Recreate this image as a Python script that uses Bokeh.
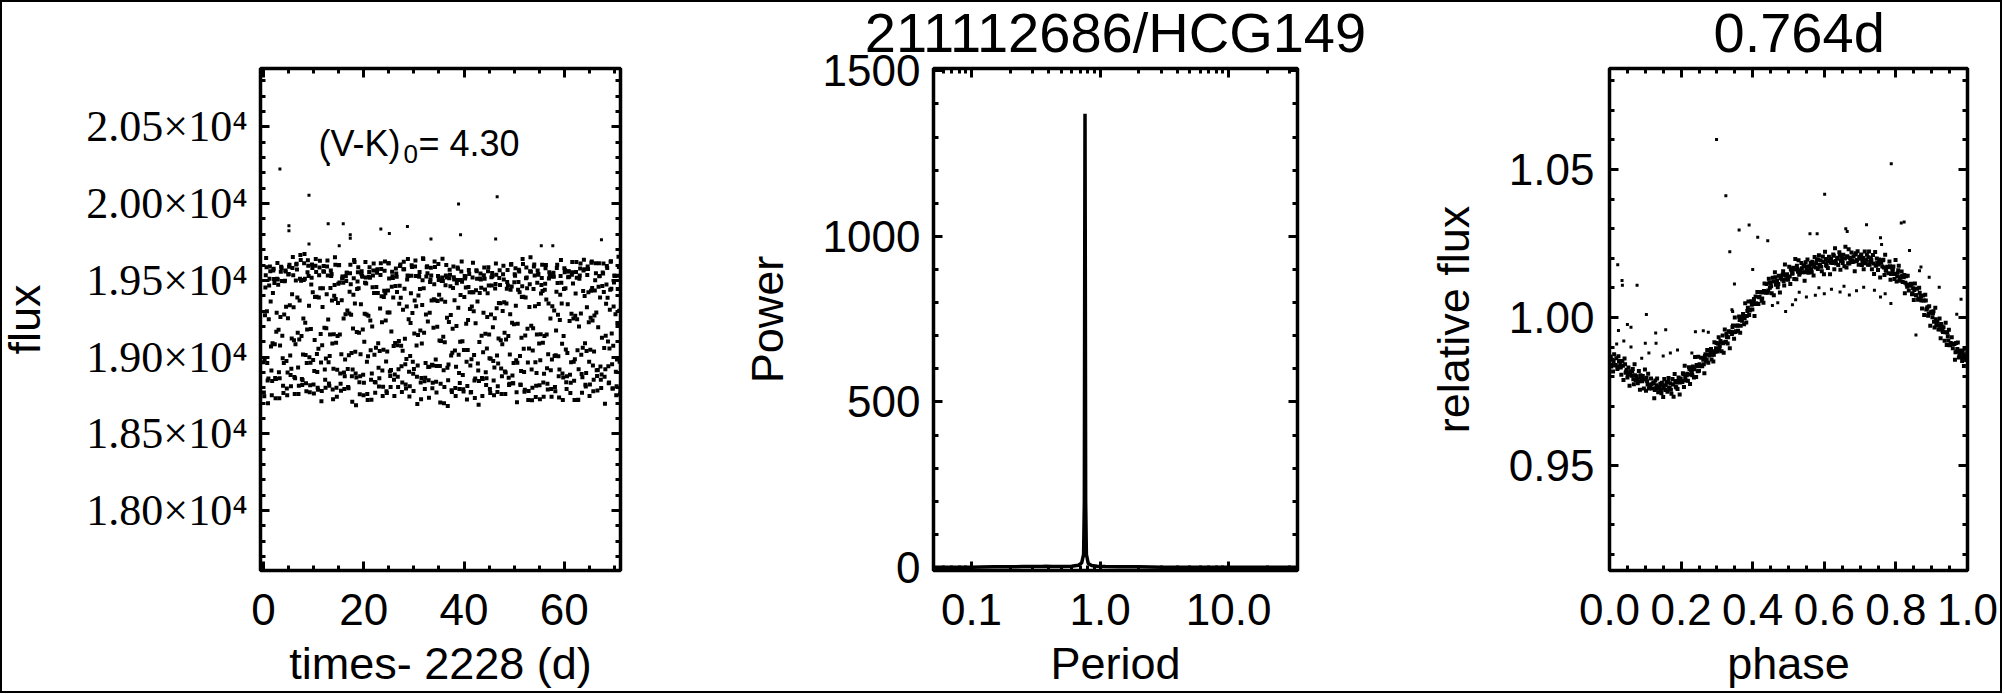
from math import pi
from bokeh.plotting import figure
from bokeh.layouts import row
from bokeh.models import (Range1d, FixedTicker, CustomJSTickFormatter, LinearAxis, LogAxis, Label,
                          Title, InlineStyleSheet)
from bokeh.embed import file_html
from bokeh.resources import INLINE

# ---------------- data ----------------
TITLE_STAR = "211112686/HCG149"
TITLE_PERIOD = "0.764d"
COLOR_TEXT = ["(V-K)", "0", "= 4.30"]

# light curve, first half of the cadences: time (d, minus 2228) and flux
LC_TIME = [
0.0,0.15,0.3,0.45,0.6,0.75,0.9,1.05,1.2,1.35,1.5,1.65,1.8,1.95,2.1,2.25,2.4,2.55,2.7,2.85,
3.0,3.15,3.3,3.45,3.6,3.75,3.9,4.05,4.2,4.35,4.5,4.65,4.8,4.95,5.1,5.25,5.4,5.55,5.7,5.85,
6.0,6.15,6.3,6.45,6.6,6.75,6.9,7.05,7.2,7.35,7.5,7.65,7.8,7.95,8.1,8.25,8.4,8.55,8.7,8.85,
9.0,9.15,9.3,9.45,9.6,9.75,9.9,10.05,10.2,10.35,10.5,10.65,10.8,10.95,11.1,11.25,11.4,11.55,11.7,11.85,
12.0,12.15,12.3,12.45,12.6,12.75,12.9,13.05,13.2,13.35,13.5,13.65,13.8,13.95,14.1,14.25,14.4,14.55,14.7,14.85,
15.0,15.15,15.3,15.45,15.6,15.75,15.9,16.05,16.2,16.35,16.5,16.65,16.8,16.95,17.1,17.25,17.4,17.55,17.7,17.85,
18.0,18.15,18.3,18.45,18.6,18.75,18.9,19.05,19.2,19.35,19.5,19.65,19.8,19.95,20.1,20.25,20.4,20.55,20.7,20.85,
21.0,21.15,21.3,21.45,21.6,21.75,21.9,22.05,22.2,22.35,22.5,22.65,22.8,22.95,23.1,23.25,23.4,23.55,23.7,23.85,
24.0,24.15,24.3,24.45,24.6,24.75,24.9,25.05,25.2,25.35,25.5,25.65,25.8,25.95,26.1,26.25,26.4,26.55,26.7,26.85,
27.0,27.15,27.3,27.45,27.6,27.75,27.9,28.05,28.2,28.35,28.5,28.65,28.8,28.95,29.1,29.25,29.4,29.55,29.7,29.85,
30.0,30.15,30.3,30.45,30.6,30.75,30.9,31.05,31.2,31.35,31.5,31.65,31.8,31.95,32.1,32.25,32.4,32.55,32.7,32.85,
33.0,33.15,33.3,33.45,33.6,33.75,33.9,34.05,34.2,34.35,34.5,34.65,34.8,34.95,35.1,35.25,35.4,35.55,35.7,35.85,
36.0,36.15,36.3,36.45,36.6,36.75,36.9,37.05,37.2,37.35,37.5,37.65,37.8,37.95,38.1,38.25,38.4,38.55,38.7,38.85,
39.0,39.15,39.3,39.45,39.6,39.75,39.9,40.05,40.2,40.35,40.5,40.65,40.8,40.95,41.1,41.25,41.4,41.55,41.7,41.85,
42.0,42.15,42.3,42.45,42.6,42.75,42.9,43.05,43.2,43.35,43.5,43.65,43.8,43.95,44.1,44.25,44.4,44.55,44.7,44.85,
45.0,45.15,45.3,45.45,45.6,45.75,45.9,46.05,46.2,46.35,46.5,46.65,46.8,46.95,47.1,47.25,47.4,47.55,47.7,47.85,
48.0,48.15,48.3,48.45,48.6,48.75,48.9,49.05,49.2,49.35,49.5,49.65,49.8,49.95,50.1,50.25,50.4,50.55,50.7,50.85,
51.0,51.15,51.3,51.45,51.6,51.75,51.9,52.05,52.2,52.35,52.5,52.65,52.8,52.95,53.1,53.25,53.4,53.55,53.7,53.85,
54.0,54.15,54.3,54.45,54.6,54.75,54.9,55.05,55.2,55.35,55.5,55.65,55.8,55.95,56.1,56.25,56.4,56.55,56.7,56.85,
57.0,57.15,57.3,57.45,57.6,57.75,57.9,58.05,58.2,58.35,58.5,58.65,58.8,58.95,59.1,59.25,59.4,59.55,59.7,59.85,
60.0,60.15,60.3,60.45,60.6,60.75,60.9,61.05,61.2,61.35,61.5,61.65,61.8,61.95,62.1,62.25,62.4,62.55,62.7,62.85,
63.0,63.15,63.3,63.45,63.6,63.75,63.9,64.05,64.2,64.35,64.5,64.65,64.8,64.95,65.1,65.25,65.4,65.55,65.7,65.85,
66.0,66.15,66.3,66.45,66.6,66.75,66.9,67.05,67.2,67.35,67.5,67.65,67.8,67.95,68.1,68.25,68.4,68.55,68.7,68.85,
69.0,69.15,69.3,69.45,69.6,69.75,69.9,70.05,70.2,70.35,70.5,70.65,70.8,70.95,71.1]

LC_FLUX = [
18967,18745,19273,19534,19586, 18961,18700,19247,19510,19559, 19069,18751,19091,19564,19509, 19083,18732,19165,19511,19506, 19178,18732,19075,19556,19581,
19139,18814,18962,19494,19564, 19328,18796,18899,19538,19589, 19338,18883,18924,19410,19652, 19324,18870,18862,19499,19608, 19389,18932,18814,19369,19665,
19497,18858,18849,19252,19611, 19511,19014,18778,19180,19631, 19528,18999,18816,19183,19517, 19580,18981,18763,19112,19595, 19555,19021,18800,19054,19533,
19628,19151,18712,19078,19448, 19594,19191,18853,18991,19410, 19630,19245,18828,19007,19451, 19529,19368,18789,18924,19400, 19650,19378,18801,18917,19353,
19598,19486,18894,18781,19371, 19525,19484,18900,18875,19279, 19495,19550,18922,18797,19284, 19547,19475,19027,18710,19186, 19514,19619,19035,18686,19164,
19493,19585,19159,18758,19019, 19543,19530,19180,18752,19100, 19484,19518,19277,18760,19005, 19524,19586,19238,18852,18894, 19455,19564,19418,18838,18835,
19457,19549,19417,18930,18862, 19317,19612,19396,18913,18807, 19391,19563,19416,18972,18767, 19290,19611,19512,18907,18805, 19167,19556,19515,19073,18747,
19092,19577,19523,19078,18806, 19105,19465,19603,19074,18773, 19042,19573,19573,19119,18822, 18988,19505,19639,19246,18743, 19007,19416,19598,19288,18891,
18923,19369,19629,19332,18872, 18945,19402,19524,19444,18835, 18864,19339,19644,19449,18842, 18865,19277,19586,19546,18935, 18735,19289,19505,19531,18951,
18833,19192,19474,19587,18985, 18770,19198,19529,19503,19108, 18705,19105,19496,19640,19133, 18699,19096,19468,19600,19256, 18682,18952,19514,19537,19275,
18784,19028,19450,19520,19370, 18799,18938,19481,19583,19321, 18896,18832,19404,19558,19491, 18883,18776,19392,19512,19453, 18970,18812,19241,19567,19422,
18945,18772,19329,19518,19422, 19013,18734,19221,19566,19510, 18959,18690,19099,19512,19506, 19139,18746,19031,19533,19510, 19152,18818,19056,19416,19585,
19147,18792,18989,19520,19548, 19194,18848,18933,19447,19610, 19319,18773,18958,19353,19565, 19351,18926,18876,19300,19595, 19358,18906,18900,19350,19490,
19466,18866,18827,19279,19602, 19460,18880,18830,19214,19540, 19579,18980,18706,19217,19490, 19558,19008,18819,19126,19461, 19607,19055,18774,19140,19514,
19518,19185,18720,19056,19475, 19650,19205,18719,19043,19444, 19604,19331,18740,18897,19485, 19537,19346,18816,18980,19414, 19516,19430,18835,18891,19439,
19579,19376,18928,18789,19349, 19552,19540,18914,18741,19331, 19529,19524,19008,18778,19174, 19581,19483,19005,18737,19242, 19528,19485,19087,18720,19138,
19579,19566,19049,18792,19027, 19521,19557,19236,18766,18966, 19536,19552,19251,18846,18986, 19414,19620,19246,18720,18921, 19511,19578,19284,18890,18869,
19431,19635,19398,18820,18896, 19325,19590,19423,18969,18821, 19257,19615,19450,18946,18853, 19271,19501,19546,18915,18783, 19194,19612,19529,18939,18799,
19126,19551,19609,19059,18696, 19139,19473,19581,19101,18829, 19056,19439,19625,19153,18796, 19074,19486,19529,19280,18751, 18985,19443,19654,19302,18757]

# light curve, the interleaved cadences
LC_TIME_B = [
0.075,0.225,0.375,0.525,0.675,0.825,0.975,1.125,1.275,1.425,1.575,1.725,1.875,2.025,2.175,2.325,2.475,2.625,2.775,2.925,
3.075,3.225,3.375,3.525,3.675,3.825,3.975,4.125,4.275,4.425,4.575,4.725,4.875,5.025,5.175,5.325,5.475,5.625,5.775,5.925,
6.075,6.225,6.375,6.525,6.675,6.825,6.975,7.125,7.275,7.425,7.575,7.725,7.875,8.025,8.175,8.325,8.475,8.625,8.775,8.925,
9.075,9.225,9.375,9.525,9.675,9.825,9.975,10.125,10.275,10.425,10.575,10.725,10.875,11.025,11.175,11.325,11.475,11.625,11.775,11.925,
12.075,12.225,12.375,12.525,12.675,12.825,12.975,13.125,13.275,13.425,13.575,13.725,13.875,14.025,14.175,14.325,14.475,14.625,14.775,14.925,
15.075,15.225,15.375,15.525,15.675,15.825,15.975,16.125,16.275,16.425,16.575,16.725,16.875,17.025,17.175,17.325,17.475,17.625,17.775,17.925,
18.075,18.225,18.375,18.525,18.675,18.825,18.975,19.125,19.275,19.425,19.575,19.725,19.875,20.025,20.175,20.325,20.475,20.625,20.775,20.925,
21.075,21.225,21.375,21.525,21.675,21.825,21.975,22.125,22.275,22.425,22.575,22.725,22.875,23.025,23.175,23.325,23.475,23.625,23.775,23.925,
24.075,24.225,24.375,24.525,24.675,24.825,24.975,25.125,25.275,25.425,25.575,25.725,25.875,26.025,26.175,26.325,26.475,26.625,26.775,26.925,
27.075,27.225,27.375,27.525,27.675,27.825,27.975,28.125,28.275,28.425,28.575,28.725,28.875,29.025,29.175,29.325,29.475,29.625,29.775,29.925,
30.075,30.225,30.375,30.525,30.675,30.825,30.975,31.125,31.275,31.425,31.575,31.725,31.875,32.025,32.175,32.325,32.475,32.625,32.775,32.925,
33.075,33.225,33.375,33.525,33.675,33.825,33.975,34.125,34.275,34.425,34.575,34.725,34.875,35.025,35.175,35.325,35.475,35.625,35.775,35.925,
36.075,36.225,36.375,36.525,36.675,36.825,36.975,37.125,37.275,37.425,37.575,37.725,37.875,38.025,38.175,38.325,38.475,38.625,38.775,38.925,
39.075,39.225,39.375,39.525,39.675,39.825,39.975,40.125,40.275,40.425,40.575,40.725,40.875,41.025,41.175,41.325,41.475,41.625,41.775,41.925,
42.075,42.225,42.375,42.525,42.675,42.825,42.975,43.125,43.275,43.425,43.575,43.725,43.875,44.025,44.175,44.325,44.475,44.625,44.775,44.925,
45.075,45.225,45.375,45.525,45.675,45.825,45.975,46.125,46.275,46.425,46.575,46.725,46.875,47.025,47.175,47.325,47.475,47.625,47.775,47.925,
48.075,48.225,48.375,48.525,48.675,48.825,48.975,49.125,49.275,49.425,49.575,49.725,49.875,50.025,50.175,50.325,50.475,50.625,50.775,50.925,
51.075,51.225,51.375,51.525,51.675,51.825,51.975,52.125,52.275,52.425,52.575,52.725,52.875,53.025,53.175,53.325,53.475,53.625,53.775,53.925,
54.075,54.225,54.375,54.525,54.675,54.825,54.975,55.125,55.275,55.425,55.575,55.725,55.875,56.025,56.175,56.325,56.475,56.625,56.775,56.925,
57.075,57.225,57.375,57.525,57.675,57.825,57.975,58.125,58.275,58.425,58.575,58.725,58.875,59.025,59.175,59.325,59.475,59.625,59.775,59.925,
60.075,60.225,60.375,60.525,60.675,60.825,60.975,61.125,61.275,61.425,61.575,61.725,61.875,62.025,62.175,62.325,62.475,62.625,62.775,62.925,
63.075,63.225,63.375,63.525,63.675,63.825,63.975,64.125,64.275,64.425,64.575,64.725,64.875,65.025,65.175,65.325,65.475,65.625,65.775,65.925,
66.075,66.225,66.375,66.525,66.675,66.825,66.975,67.125,67.275,67.425,67.575,67.725,67.875,68.025,68.175,68.325,68.475,68.625,68.775,68.925,
69.075,69.225,69.375,69.525,69.675,69.825,69.975,70.125,70.275,70.425,70.575,70.725,70.875,71.025,71.175]

LC_FLUX_B = [
18769,18986,19453,19645,19299, 18847,18861,19466,19590,19363, 18913,18844,19418,19575,19482, 18864,18858,19289,19613,19471, 18902,18863,19261,19589,19496,
18992,18767,19277,19497,19557, 18975,18752,19253,19541,19601, 19011,18810,19121,19581,19534, 19110,18760,19083,19604,19571, 19159,18760,19115,19511,19632,
19137,18819,19017,19503,19671, 19224,18829,18961,19552,19595, 19335,18771,18963,19473,19604, 19423,18822,18909,19392,19639, 19394,18903,18788,19389,19583,
19448,18965,18779,19326,19560, 19556,18920,18801,19188,19590, 19532,18966,18813,19147,19564, 19542,19088,18725,19149,19469, 19601,19094,18741,19137,19478,
19600,19147,18827,19018,19512, 19524,19251,18792,18984,19527, 19549,19303,18805,19012,19425, 19601,19276,18876,18919,19407, 19633,19349,18893,18868,19444,
19553,19448,18836,18876,19344, 19559,19523,18885,18833,19282, 19620,19479,18970,18720,19269, 19554,19517,19044,18722,19200, 19531,19610,19016,18768,19061,
19564,19573,19091,18809,19039, 19535,19574,19227,18747,19048, 19433,19623,19239,18778,19037, 19434,19612,19290,18877,18916, 19459,19527,19389,18852,18887,
19463,19545,19424,18872,18921, 19347,19594,19386,18940,18835, 19309,19621,19446,18953,18795, 19330,19531,19528,18905,18810, 19222,19530,19587,18969,18780,
19154,19591,19529,19075,18694, 19144,19528,19555,19173,18725, 19089,19501,19639,19159,18793, 18962,19525,19592,19232,18850, 18937,19490,19582,19368,18797,
18946,19377,19623,19371,18839, 18942,19366,19606,19406,18942, 18826,19376,19518,19495,18915, 18806,19360,19531,19518,18931, 18850,19229,19569,19461,19011,
18772,19185,19591,19506,19043, 18747,19203,19503,19575,19016, 18792,19100,19503,19623,19104, 18791,19047,19529,19525,19218, 18724,19047,19457,19541,19314,
18769,18986,19423,19615,19299, 18847,18861,19436,19560,19363, 18913,18844,19418,19545,19452, 18864,18858,19289,19583,19441, 18902,18863,19261,19559,19466,
18992,18767,19277,19467,19527, 18975,18752,19253,19476,19536, 19011,18810,19121,19516,19469, 19110,18760,19083,19539,19506, 19159,18760,19115,19446,19567,
19137,18819,19017,19438,19606, 19224,18829,18961,19487,19530, 19335,18771,18963,19438,19569, 19423,18822,18909,19392,19639, 19394,18903,18788,19389,19583,
19448,18965,18779,19326,19560, 19556,18920,18801,19188,19590, 19532,18966,18813,19147,19564, 19542,19088,18725,19149,19469, 19601,19094,18741,19137,19478,
19600,19147,18827,19018,19512, 19524,19251,18792,18984,19527, 19549,19303,18805,19012,19425, 19601,19276,18876,18919,19407, 19633,19349,18893,18868,19444,
19553,19448,18836,18876,19344, 19559,19523,18885,18833,19282, 19620,19479,18970,18720,19269, 19554,19517,19044,18722,19200, 19531,19610,19016,18768,19061,
19564,19573,19091,18809,19039, 19535,19574,19227,18747,19048, 19433,19623,19239,18778,19037, 19434,19612,19290,18877,18916, 19459,19527,19389,18852,18887,
19463,19545,19424,18872,18921, 19347,19594,19386,18940,18835, 19309,19621,19446,18953,18795, 19330,19531,19528,18905,18810, 19222,19530,19587,18969,18780]

# isolated high points of the light curve
LC_OUT_TIME = [3.27,12.9,9.07,38.9,46.6,12.9,15.9,5.07,5.07,23.4,25.1,28.7,17.3,17.3,33.4,39.3,9.07,15.1,67.4,46.3,55.4,57.7]
LC_OUT_FLUX = [20226,20254,20054,19997,20045,19868,19868,19855,19823,19834,19806,19851,19797,19774,19769,19797,19737,19726,19765,19769,19726,19726]

# periodogram
PERIOD = [0.0506,0.06,0.07,0.08,0.09,0.1,0.12,0.15,0.2,0.25,0.3,0.35,0.38,0.42,0.5,0.6,0.68,0.72,0.745,0.755,0.760,0.764,0.768,0.773,0.783,0.81,0.86,0.95,1.1,1.4,2.0,3.0,5.0,8.0,13.0,20.0,34.4]
POWER = [0.5,0.5,1,1,1,1,1.5,2,2,3,3,3,4,3,3,4,7,14,40,200,900,1370,900,200,40,12,6,4,3,2,2,1,1,1,1,1,1]

# phase-folded light curve (main band)
PHASE = [
0.002,0.005,0.008,0.010,0.013,0.016,0.019, 0.022,0.025,0.028,0.030,0.033,0.036,0.039,
0.042,0.045,0.048,0.050,0.053,0.056,0.059, 0.062,0.065,0.068,0.070,0.073,0.076,0.079,
0.082,0.085,0.088,0.090,0.093,0.096,0.099, 0.102,0.105,0.108,0.110,0.113,0.116,0.119,
0.122,0.125,0.128,0.130,0.133,0.136,0.139, 0.142,0.145,0.148,0.150,0.153,0.156,0.159,
0.162,0.165,0.168,0.170,0.173,0.176,0.179, 0.182,0.185,0.188,0.190,0.193,0.196,0.199,
0.202,0.205,0.208,0.210,0.213,0.216,0.219, 0.222,0.225,0.228,0.230,0.233,0.236,0.239,
0.242,0.245,0.248,0.250,0.253,0.256,0.259, 0.262,0.265,0.268,0.270,0.273,0.276,0.279,
0.282,0.285,0.288,0.290,0.293,0.296,0.299, 0.302,0.305,0.308,0.310,0.313,0.316,0.319,
0.322,0.325,0.328,0.330,0.333,0.336,0.339, 0.342,0.345,0.348,0.350,0.353,0.356,0.359,
0.362,0.365,0.368,0.370,0.373,0.376,0.379, 0.382,0.385,0.388,0.390,0.393,0.396,0.399,
0.402,0.405,0.408,0.410,0.413,0.416,0.419, 0.422,0.425,0.428,0.430,0.433,0.436,0.439,
0.442,0.445,0.448,0.450,0.453,0.456,0.459, 0.462,0.465,0.468,0.470,0.473,0.476,0.479,
0.482,0.485,0.488,0.490,0.493,0.496,0.499, 0.502,0.505,0.508,0.510,0.513,0.516,0.519,
0.522,0.525,0.528,0.530,0.533,0.536,0.539, 0.542,0.545,0.548,0.550,0.553,0.556,0.559,
0.562,0.565,0.568,0.570,0.573,0.576,0.579, 0.582,0.585,0.588,0.590,0.593,0.596,0.599,
0.602,0.605,0.608,0.610,0.613,0.616,0.619, 0.622,0.625,0.628,0.630,0.633,0.636,0.639,
0.642,0.645,0.648,0.650,0.653,0.656,0.659, 0.662,0.665,0.668,0.670,0.673,0.676,0.679,
0.682,0.685,0.688,0.690,0.693,0.696,0.699, 0.702,0.705,0.708,0.710,0.713,0.716,0.719,
0.722,0.725,0.728,0.730,0.733,0.736,0.739, 0.742,0.745,0.748,0.750,0.753,0.756,0.759,
0.762,0.765,0.768,0.770,0.773,0.776,0.779, 0.782,0.785,0.788,0.790,0.793,0.796,0.799,
0.802,0.805,0.808,0.810,0.813,0.816,0.819, 0.822,0.825,0.828,0.830,0.833,0.836,0.839,
0.842,0.845,0.848,0.850,0.853,0.856,0.859, 0.862,0.865,0.868,0.870,0.873,0.876,0.879,
0.882,0.885,0.888,0.890,0.893,0.896,0.899, 0.902,0.905,0.908,0.910,0.913,0.916,0.919,
0.922,0.925,0.928,0.930,0.933,0.936,0.939, 0.942,0.945,0.948,0.950,0.953,0.956,0.959,
0.962,0.965,0.968,0.970,0.973,0.976,0.979, 0.982,0.985,0.988,0.990,0.993,0.996,0.999]

REL_FLUX = [
0.9868,0.9834,0.9857,0.9817,0.9876,0.9838,0.9862, 0.9826,0.9869,0.9833,0.9845,0.9806,0.9853,0.9789,
0.9861,0.9813,0.9823,0.9797,0.9831,0.9769,0.9818, 0.9803,0.9826,0.9774,0.9842,0.9788,0.9801,0.9778,
0.9819,0.9756,0.9798,0.9786,0.9802,0.9760,0.9824, 0.9752,0.9784,0.9810,0.9760,0.9771,0.9794,0.9760,
0.9778,0.9727,0.9787,0.9761,0.9794,0.9747,0.9765, 0.9776,0.9744,0.9769,0.9731,0.9792,0.9755,0.9781,
0.9749,0.9795,0.9763,0.9778,0.9742,0.9792,0.9732, 0.9809,0.9766,0.9780,0.9758,0.9797,0.9740,0.9794,
0.9785,0.9811,0.9765,0.9837,0.9787,0.9805,0.9786, 0.9832,0.9775,0.9822,0.9813,0.9834,0.9797,0.9866,
0.9799,0.9836,0.9867,0.9820,0.9836,0.9864,0.9835, 0.9857,0.9811,0.9876,0.9852,0.9890,0.9847,0.9871,
0.9886,0.9858,0.9886,0.9851,0.9916,0.9884,0.9914, 0.9885,0.9933,0.9903,0.9920,0.9886,0.9939,0.9881,
0.9959,0.9918,0.9934,0.9912,0.9953,0.9896,0.9952, 0.9944,0.9973,0.9928,1.0000,0.9953,0.9972,0.9955,
1.0003,0.9948,0.9997,0.9989,1.0012,0.9977,1.0048, 0.9983,1.0022,1.0054,1.0008,1.0026,1.0055,1.0027,
1.0051,1.0005,1.0071,1.0048,1.0086,1.0045,1.0069, 1.0085,1.0056,1.0085,1.0050,1.0115,1.0083,1.0113,
1.0083,1.0131,1.0100,1.0116,1.0082,1.0134,1.0075, 1.0153,1.0110,1.0124,1.0102,1.0141,1.0084,1.0138,
1.0128,1.0156,1.0108,1.0179,1.0129,1.0146,1.0127, 1.0171,1.0113,1.0159,1.0148,1.0168,1.0130,1.0197,
1.0129,1.0164,1.0193,1.0144,1.0159,1.0184,1.0153, 1.0174,1.0124,1.0186,1.0161,1.0196,1.0151,1.0172,
1.0184,1.0153,1.0179,1.0142,1.0204,1.0169,1.0196, 1.0164,1.0210,1.0177,1.0192,1.0156,1.0206,1.0146,
1.0222,1.0177,1.0190,1.0167,1.0205,1.0146,1.0199, 1.0187,1.0213,1.0163,1.0234,1.0182,1.0198,1.0177,
1.0220,1.0161,1.0205,1.0194,1.0212,1.0173,1.0239, 1.0169,1.0203,1.0230,1.0182,1.0195,1.0219,1.0187,
1.0206,1.0156,1.0217,1.0191,1.0224,1.0178,1.0198, 1.0209,1.0177,1.0201,1.0163,1.0223,1.0187,1.0212,
1.0178,1.0223,1.0187,1.0200,1.0163,1.0211,1.0147, 1.0221,1.0175,1.0185,1.0160,1.0196,1.0135,1.0185,
1.0172,1.0195,1.0143,1.0212,1.0158,1.0171,1.0149, 1.0189,1.0127,1.0169,1.0156,1.0172,1.0130,1.0194,
1.0121,1.0151,1.0175,1.0124,1.0134,1.0155,1.0120, 1.0136,1.0082,1.0139,1.0111,1.0141,1.0091,1.0107,
1.0114,1.0078,1.0099,1.0059,1.0115,1.0075,1.0097, 1.0060,1.0100,1.0061,1.0072,1.0030,1.0074,1.0008,
1.0077,1.0027,1.0034,1.0006,1.0038,0.9972,1.0019, 1.0001,1.0021,0.9966,1.0033,0.9975,0.9985,0.9959,
0.9996,0.9930,0.9969,0.9955,0.9967,0.9921,0.9982, 0.9907,0.9936,0.9958,0.9906,0.9914,0.9933,0.9896,
0.9910,0.9857,0.9914,0.9885,0.9915,0.9865,0.9881, 0.9888,0.9853,0.9875,0.9836,0.9894,0.9856,0.9879]

PHASE_B = [
0.0035,0.0065,0.0115,0.0175, 0.0235,0.0265,0.0315,0.0375, 0.0435,0.0465,0.0515,0.0575, 0.0635,0.0665,0.0715,0.0775, 0.0835,0.0865,0.0915,0.0975,
0.1035,0.1065,0.1115,0.1175, 0.1235,0.1265,0.1315,0.1375, 0.1435,0.1465,0.1515,0.1575, 0.1635,0.1665,0.1715,0.1775, 0.1835,0.1865,0.1915,0.1975,
0.2035,0.2065,0.2115,0.2175, 0.2235,0.2265,0.2315,0.2375, 0.2435,0.2465,0.2515,0.2575, 0.2635,0.2665,0.2715,0.2775, 0.2835,0.2865,0.2915,0.2975,
0.3035,0.3065,0.3115,0.3175, 0.3235,0.3265,0.3315,0.3375, 0.3435,0.3465,0.3515,0.3575, 0.3635,0.3665,0.3715,0.3775, 0.3835,0.3865,0.3915,0.3975,
0.4035,0.4065,0.4115,0.4175, 0.4235,0.4265,0.4315,0.4375, 0.4435,0.4465,0.4515,0.4575, 0.4635,0.4665,0.4715,0.4775, 0.4835,0.4865,0.4915,0.4975,
0.5035,0.5065,0.5115,0.5175, 0.5235,0.5265,0.5315,0.5375, 0.5435,0.5465,0.5515,0.5575, 0.5635,0.5665,0.5715,0.5775, 0.5835,0.5865,0.5915,0.5975,
0.6035,0.6065,0.6115,0.6175, 0.6235,0.6265,0.6315,0.6375, 0.6435,0.6465,0.6515,0.6575, 0.6635,0.6665,0.6715,0.6775, 0.6835,0.6865,0.6915,0.6975,
0.7035,0.7065,0.7115,0.7175, 0.7235,0.7265,0.7315,0.7375, 0.7435,0.7465,0.7515,0.7575, 0.7635,0.7665,0.7715,0.7775, 0.7835,0.7865,0.7915,0.7975,
0.8035,0.8065,0.8115,0.8175, 0.8235,0.8265,0.8315,0.8375, 0.8435,0.8465,0.8515,0.8575, 0.8635,0.8665,0.8715,0.8775, 0.8835,0.8865,0.8915,0.8975,
0.9035,0.9065,0.9115,0.9175, 0.9235,0.9265,0.9315,0.9375, 0.9435,0.9465,0.9515,0.9575, 0.9635,0.9665,0.9715,0.9775, 0.9835,0.9865,0.9915,0.9975]

REL_FLUX_B = [
0.9865,0.9839,0.9853,0.9839, 0.9831,0.9853,0.9831,0.9837, 0.9842,0.9817,0.9806,0.9814, 0.9817,0.9791,0.9805,0.9791, 0.9784,0.9805,0.9784,0.9790,
0.9796,0.9773,0.9763,0.9774, 0.9780,0.9755,0.9771,0.9759, 0.9755,0.9779,0.9760,0.9770, 0.9782,0.9761,0.9756,0.9773, 0.9785,0.9763,0.9785,0.9780,
0.9782,0.9809,0.9795,0.9810, 0.9826,0.9807,0.9805,0.9825, 0.9839,0.9818,0.9842,0.9838, 0.9842,0.9870,0.9858,0.9875, 0.9893,0.9874,0.9874,0.9896,
0.9911,0.9891,0.9915,0.9913, 0.9917,0.9945,0.9933,0.9950, 0.9968,0.9950,0.9951,0.9973, 0.9991,0.9972,0.9998,0.9998, 1.0005,1.0033,1.0023,1.0043,
1.0062,1.0045,1.0045,1.0068, 1.0085,1.0064,1.0089,1.0087, 1.0091,1.0118,1.0105,1.0121, 1.0136,1.0116,1.0113,1.0132, 1.0144,1.0122,1.0143,1.0137,
1.0138,1.0164,1.0148,1.0162, 1.0175,1.0154,1.0149,1.0166, 1.0176,1.0153,1.0172,1.0164, 1.0163,1.0188,1.0172,1.0184, 1.0196,1.0176,1.0171,1.0187,
1.0197,1.0174,1.0193,1.0185, 1.0184,1.0208,1.0191,1.0202, 1.0212,1.0191,1.0184,1.0199, 1.0207,1.0183,1.0202,1.0192, 1.0189,1.0213,1.0194,1.0204,
1.0213,1.0191,1.0183,1.0196, 1.0203,1.0178,1.0194,1.0182, 1.0176,1.0199,1.0179,1.0186, 1.0193,1.0169,1.0159,1.0170, 1.0173,1.0147,1.0161,1.0147,
1.0138,1.0159,1.0136,1.0140, 1.0143,1.0117,1.0104,1.0110, 1.0110,1.0082,1.0093,1.0075, 1.0063,1.0083,1.0057,1.0057, 1.0057,1.0029,1.0013,1.0016,
1.0014,0.9985,0.9994,0.9973, 0.9960,0.9978,0.9951,0.9950, 0.9949,0.9922,0.9907,0.9911, 0.9910,0.9882,0.9893,0.9875, 0.9866,0.9887,0.9865,0.9869]

# phase-folded light curve (scattered points away from the band)
PHASE_OUT = [0.299,0.787,0.325,0.601,0.815,0.823,0.390,0.362,0.336,0.023,0.035,0.036,0.077,0.103,0.050,0.060,0.025,0.856,0.157,0.129,
             0.240,0.262,0.276,0.970,0.982,0.921,0.893,0.870,0.866,0.838,0.757,0.760,0.718,0.660,0.664,0.580,0.560,0.414,0.442,0.400,
             0.349,0.342,0.344,
             0.492,0.511,0.550,0.600,0.644,0.670,0.710,0.740,0.757,0.786,0.470,0.530,0.575,0.620,0.690,0.770,0.455,0.520,0.585,0.655,
             0.100,0.130,0.090,0.170,0.190,0.210,0.060,0.040,0.020,0.110,0.150,0.230]
REL_OUT = [1.0601,1.0519,1.0411,1.0416,1.0319,1.0322,1.0312,1.0295,1.0222,1.0178,1.0125,1.0109,1.0109,1.0010,0.9976,0.9967,0.9956,0.9941,0.9958,0.9947,
           0.9952,0.9955,0.9950,1.0011,1.0061,1.0102,1.0136,1.0170,1.0158,1.0226,1.0269,1.0246,1.0313,1.0300,1.0290,1.0283,1.0283,1.0271,1.0259,1.0162,
           1.0113,1.0026,1.0020,
           1.0020,1.0043,1.0069,1.0080,1.0086,1.0076,1.0102,1.0092,1.0069,1.0047,1.0050,1.0085,1.0075,1.0095,1.0090,1.0080,1.0040,1.0060,1.0100,1.0105,
           0.9913,0.9913,0.9862,0.9880,0.9890,0.9838,0.9900,0.9920,0.9910,0.9880,0.9870,0.9880]

# tick values
T_MAJOR = [0, 20, 40, 60]
FLUX_MAJOR = [18000, 18500, 19000, 19500, 20000, 20500]
POW_MAJOR = [0, 500, 1000, 1500]
PER_MAJOR = [0.1, 1, 10]
PH_MAJOR = [0.0, 0.2, 0.4, 0.6, 0.8, 1.0]
REL_MAJOR = [0.95, 1.00, 1.05]

# ---------------- styling helpers ----------------
SANS = "Liberation Sans"
SERIF = "Liberation Serif"
TICK_PX = "44px"
LAB_PX = "45px"
SHIFT_X, SHIFT_Y = 16, 22     # the row is pulled left/up by this much
FIG_H = 691 + SHIFT_Y
TOP, BOTTOM = 68 + SHIFT_Y, 117

def new_fig(w, xr, yr, left, right, x_type="linear"):
    p = figure(width=w, height=FIG_H, x_range=xr, y_range=yr, x_axis_type=x_type,
               output_backend="svg", toolbar_location=None, title=None,
               min_border_left=left, min_border_right=right,
               min_border_top=TOP, min_border_bottom=BOTTOM)
    p.xgrid.visible = False
    p.ygrid.visible = False
    p.outline_line_color = "black"
    p.outline_line_width = 3.5
    p.background_fill_color = "white"
    p.border_fill_color = "white"
    return p

def style_axis(ax, ticks, minor, code, font=SANS, size=TICK_PX, standoff=14):
    ax.ticker = FixedTicker(ticks=ticks, minor_ticks=minor)
    ax.formatter = CustomJSTickFormatter(code=code)
    ax.axis_line_color = None
    ax.major_tick_in = 9
    ax.major_tick_out = 0
    ax.minor_tick_in = 5
    ax.minor_tick_out = 0
    ax.major_tick_line_width = 3
    ax.minor_tick_line_width = 3
    ax.major_tick_line_color = "black"
    ax.minor_tick_line_color = "black"
    ax.major_label_text_font = font
    ax.major_label_text_font_size = size
    ax.major_label_text_color = "black"
    ax.major_label_standoff = standoff

def axis_title(ax, text, standoff):
    ax.axis_label = text
    ax.axis_label_text_font = SANS
    ax.axis_label_text_font_size = LAB_PX
    ax.axis_label_text_font_style = "normal"
    ax.axis_label_text_color = "black"
    ax.axis_label_standoff = standoff

def mirror(p, side, ticks, minor, log=False):
    ax = LogAxis() if log else LinearAxis()
    style_axis(ax, ticks, minor, "return ''", size="0px", standoff=0)
    p.add_layout(ax, side)

def top_title(p, text, align="center", offset=0):
    p.title = Title(text=text, text_font=SANS, text_font_size="56px", text_font_style="normal",
                    text_color="black", align=align, offset=offset, standoff=10)

def lab(p, x, y, text, size, align="left"):
    p.add_layout(Label(x=x, y=y, x_units="screen", y_units="screen", text=text,
                       text_font=SANS, text_font_size=size, text_color="black",
                       text_align=align, text_baseline="alphabetic"))

# ---------------- panel 1: light curve ----------------
p1 = new_fig(718, Range1d(-0.6, 71.2), Range1d(17610, 20880), 260 + SHIFT_X, 82)
t_minor = [v for v in range(5, 75, 5)]
f_minor = [v for v in range(17700, 20900, 100)]
style_axis(p1.xaxis[0], T_MAJOR, t_minor, "return tick.toFixed(0)", standoff=23)
style_axis(p1.yaxis[0], FLUX_MAJOR, f_minor,
           "return (tick/10000).toFixed(2) + '\\u00d710\\u2074'", font=SERIF, standoff=13)
axis_title(p1.xaxis[0], "times- 2228 (d)", 10)
axis_title(p1.yaxis[0], "flux", 33)
mirror(p1, "above", T_MAJOR, t_minor)
mirror(p1, "right", FLUX_MAJOR, f_minor)
p1.scatter(LC_TIME, LC_FLUX, marker="square", size=4.0, fill_color="black", line_color=None)
p1.scatter(LC_TIME_B, LC_FLUX_B, marker="square", size=4.0, fill_color="black", line_color=None)
p1.scatter(LC_OUT_TIME, LC_OUT_FLUX, marker="square", size=3.0, fill_color="black", line_color=None)
lab(p1, 58, 427, COLOR_TEXT[0], "36px")
lab(p1, 143, 417, COLOR_TEXT[1], "26px")
lab(p1, 158, 427, COLOR_TEXT[2], "36px")

# ---------------- panel 2: periodogram ----------------
p2 = new_fig(670, Range1d(0.0506, 34.4), Range1d(-9, 1507), 231, 75, x_type="log")
per_minor = [0.05, 0.06, 0.07, 0.08, 0.09, 0.2, 0.3, 0.4, 0.5, 0.6, 0.7, 0.8, 0.9,
             2, 3, 4, 5, 6, 7, 8, 9, 20, 30]
pow_minor = [v for v in range(100, 1600, 100)]
style_axis(p2.xaxis[0], PER_MAJOR, per_minor, "return tick.toFixed(1)", standoff=23)
style_axis(p2.yaxis[0], POW_MAJOR, pow_minor, "return tick.toFixed(0)", standoff=13)
axis_title(p2.xaxis[0], "Period", 10)
axis_title(p2.yaxis[0], "Power", 27)
mirror(p2, "above", PER_MAJOR, per_minor, log=True)
mirror(p2, "right", POW_MAJOR, pow_minor)
p2.line(PERIOD, POWER, line_width=3.5, line_color="black")
top_title(p2, TITLE_STAR)

# ---------------- panel 3: phased light curve ----------------
p3 = new_fig(628, Range1d(0.0, 1.0), Range1d(0.9145, 1.0841), 237, 33)
ph_minor = [round(0.05 * i, 2) for i in range(1, 20)]
rel_minor = [round(0.92 + 0.01 * i, 2) for i in range(0, 17)]
style_axis(p3.xaxis[0], PH_MAJOR, ph_minor, "return tick.toFixed(1)", standoff=23)
style_axis(p3.yaxis[0], REL_MAJOR, rel_minor, "return tick.toFixed(2)", standoff=15)
axis_title(p3.xaxis[0], "phase", 10)
axis_title(p3.yaxis[0], "relative flux", 27)
mirror(p3, "above", PH_MAJOR, ph_minor)
mirror(p3, "right", REL_MAJOR, rel_minor)
p3.scatter(PHASE, REL_FLUX, marker="square", size=4.0, fill_color="black", line_color=None)
p3.scatter(PHASE_B, REL_FLUX_B, marker="square", size=4.0, fill_color="black", line_color=None)
p3.scatter(PHASE_OUT, REL_OUT, marker="square", size=3.0, fill_color="black", line_color=None)
top_title(p3, TITLE_PERIOD, align="left", offset=104)

# thin frame round the whole picture, pinned to the window
frame_css = InlineStyleSheet(css=":host::after { content: ''; position: fixed; left: 0px; top: 0px; "
                                 "width: 2002px; height: 693px; border: 2px solid #000; "
                                 "box-sizing: border-box; background: transparent; z-index: 50; "
                                 "pointer-events: none; }")
layout = row(p1, p2, p3, styles={"margin": f"-{SHIFT_Y}px 0px 0px -{SHIFT_X}px"},
             stylesheets=[frame_css])

open("out.html", "w", encoding="utf-8").write(file_html(layout, INLINE))
